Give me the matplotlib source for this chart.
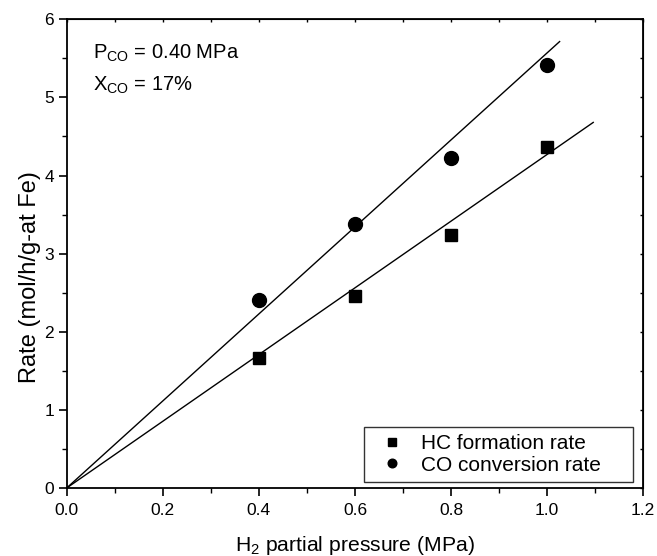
import matplotlib
matplotlib.use("Agg")
import matplotlib.pyplot as plt
import numpy as np

plt.rcParams['font.family'] = ['Liberation Sans', 'DejaVu Sans']
plt.rcParams['mathtext.fontset'] = 'custom'
plt.rcParams['mathtext.rm'] = 'Liberation Sans'
plt.rcParams['mathtext.it'] = 'Liberation Sans:italic'

pressure = [0.4, 0.6, 0.8, 1.0]
hc_rate = [1.67, 2.46, 3.24, 4.36]
co_rate = [2.41, 3.38, 4.23, 5.41]
# fitted lines through origin: slope and end x
co_fit_slope, co_fit_end = 5.57, 1.026
hc_fit_slope, hc_fit_end = 4.27, 1.096

xticks = [0.0, 0.2, 0.4, 0.6, 0.8, 1.0, 1.2]
xtick_labels = ['0.0', '0.2', '0.4', '0.6', '0.8', '1.0', '1.2']
yticks = [0, 1, 2, 3, 4, 5, 6]

fig = plt.figure(figsize=(6.57, 5.56), dpi=100)
ax = fig.add_axes([0.1015, 0.1223, 0.8775, 0.843])

ax.plot([0, co_fit_end], [0, co_fit_slope * co_fit_end], color='black', lw=1.0)
ax.plot([0, hc_fit_end], [0, hc_fit_slope * hc_fit_end], color='black', lw=1.0)
ax.plot(pressure, hc_rate, 's', color='black', ms=9, label='HC formation rate')
ax.plot(pressure, co_rate, 'o', color='black', ms=10, label='CO conversion rate')

ax.set_xlim(0, 1.2)
ax.set_ylim(0, 6)
ax.set_xticks(xticks)
ax.set_xticklabels(xtick_labels)
ax.set_yticks(yticks)
ax.set_xticks(np.arange(0.1, 1.2, 0.2), minor=True)
ax.set_yticks(np.arange(0.5, 6, 1.0), minor=True)
ax.tick_params(which='major', direction='out', length=6, width=1.2, labelsize=12.5)
ax.tick_params(axis='x', which='major', pad=5)
ax.tick_params(axis='y', which='major', pad=3)
ax.tick_params(which='minor', direction='out', length=3.5, width=1.0)
for s in ax.spines.values():
    s.set_linewidth(1.3)

# tiny ticks on top and right
sx = ax.secondary_xaxis('top')
sx.set_xticks(xticks + list(np.arange(0.1, 1.2, 0.2)))
sx.tick_params(direction='in', length=2, width=1.0, labeltop=False)
sy = ax.secondary_yaxis('right')
sy.set_yticks(yticks + list(np.arange(0.5, 6, 1.0)))
sy.tick_params(direction='in', length=2, width=1.0, labelright=False)

ax.set_xlabel(r'H$_2$ partial pressure (MPa)', fontsize=15.2, labelpad=11)
ax.set_ylabel('Rate (mol/h/g-at Fe)', fontsize=17)
ax.yaxis.set_label_coords(-0.045, 0.451)

ax.text(0.054, 5.49, r'P$_{\mathrm{CO}}$ = 0.40 MPa', fontsize=14.5, va='baseline')
ax.text(0.054, 5.09, r'X$_{\mathrm{CO}}$ = 17%', fontsize=14.5, va='baseline')

leg = ax.legend(loc='lower left', bbox_to_anchor=(0.5156, 0.013, 0.4664, 0.126),
                mode='expand', borderaxespad=0,
                fontsize=15, markerscale=0.62, handletextpad=0.4, handlelength=2.0,
                fancybox=False, framealpha=1, edgecolor='#333333',
                borderpad=0.35, labelspacing=0.12)
leg.get_frame().set_linewidth(1.0)

fig.savefig('out.png', dpi=100)
